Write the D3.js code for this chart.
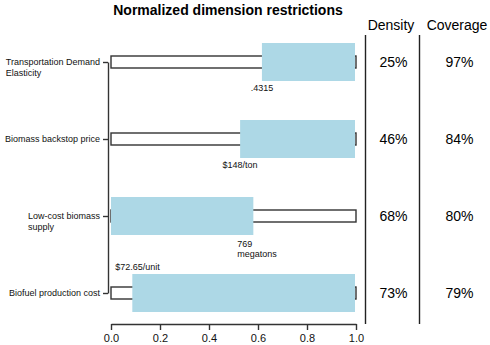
<!DOCTYPE html>
<html><head><meta charset="utf-8">
<script src="https://cdn.jsdelivr.net/npm/d3@7"></script>
<style>body{margin:0;background:#fff}svg{display:block;font-family:"Liberation Sans",Arial,sans-serif}</style>
</head><body><svg id="c" width="490" height="345"></svg>
<script>
const categories = ["Transportation Demand\nElasticity", "Biomass backstop price", "Low-cost biomass\nsupply", "Biofuel production cost"];
const lowerBounds = [0.616, 0.527, 0.0, 0.087];
const upperBounds = [1.0, 1.0, 0.581, 1.0];
const boundLabels = [".4315", "$148/ton", "769\nmegatons", "$72.65/unit"];
const density = ["25%", "46%", "68%", "73%"];
const coverage = ["97%", "84%", "80%", "79%"];
const xTicks = [0, 0.2, 0.4, 0.6, 0.8, 1.0];
const title = "Normalized dimension restrictions";

const svg = d3.select("#c");
const x = d3.scaleLinear().domain([0, 1]).range([111, 356]);
const y = d3.scalePoint().domain(d3.range(categories.length)).range([62, 293]);
const dark = "#333";

svg.append("text").attr("x", 228).attr("y", 15).attr("text-anchor", "middle")
  .attr("font-size", 14).attr("font-weight", "bold").text(title);

// white full-range bars
svg.selectAll("rect.full").data(categories).join("rect")
  .attr("x", x(0)).attr("width", x(1) - x(0))
  .attr("y", (d, i) => y(i) - 6).attr("height", 12)
  .attr("fill", "#fff").attr("stroke", dark).attr("stroke-width", 1.4);

// blue restricted ranges
svg.selectAll("rect.rng").data(categories).join("rect")
  .attr("x", (d, i) => x(lowerBounds[i]))
  .attr("width", (d, i) => x(upperBounds[i]) - x(lowerBounds[i]) - (upperBounds[i] === 1 ? 1 : 0))
  .attr("y", (d, i) => y(i) - 19).attr("height", 38)
  .attr("fill", "#ADD8E6");

// bound labels
const lab = svg.selectAll("text.bl").data(boundLabels).join("text")
  .attr("font-size", 9).attr("fill", "#111");
lab.each(function(d, i) {
  const t = d3.select(this);
  let px, py, anchor;
  if (i === 3) { px = x(lowerBounds[i]) - 17; py = y(i) - 23; anchor = "start"; }
  else if (lowerBounds[i] === 0) { px = x(upperBounds[i]) - 16; py = y(i) + 31; anchor = "start"; }
  else { px = x(lowerBounds[i]); py = y(i) + 29; anchor = "middle"; }
  t.attr("text-anchor", anchor);
  d.split("\n").forEach((s, k) => t.append("tspan").attr("x", px).attr("y", py + k * 9.5).text(s));
});

// x axis
const xa = svg.append("g").attr("transform", "translate(0,324)")
  .call(d3.axisBottom(x).tickValues(xTicks).tickFormat(d3.format(".1f")).tickSize(6).tickSizeOuter(0).tickPadding(4));
xa.selectAll("path,line").attr("stroke", dark).attr("stroke-width", 1.4);
xa.selectAll("text").attr("font-size", 11).attr("font-family", "Liberation Sans, Arial, sans-serif").attr("fill", "#111");

// y axis
const ya = svg.append("g").attr("transform", "translate(108,0)")
  .call(d3.axisLeft(y).tickSize(5).tickSizeOuter(0).tickFormat(""));
ya.selectAll("path,line").attr("stroke", dark).attr("stroke-width", 1.4);

// category labels (block right-aligned, lines left-aligned)
categories.forEach((c, i) => {
  const lines = c.split("\n");
  const g = svg.append("text").attr("font-size", 9).attr("fill", "#111");
  lines.forEach((s, k) => g.append("tspan").attr("y", y(i) + 3 + k * 10.5).text(s));
  const tsp = g.selectAll("tspan").nodes();
  const w = d3.max(tsp, n => n.getComputedTextLength());
  g.selectAll("tspan").attr("x", 100 - w);
});

// separators
[365.5, 419.5].forEach(sx => svg.append("line").attr("x1", sx).attr("x2", sx).attr("y1", 35).attr("y2", 324)
  .attr("stroke", "#222").attr("stroke-width", 1.4));

svg.append("text").attr("x", 391).attr("y", 30).attr("text-anchor", "middle").attr("font-size", 14).text("Density");
svg.append("text").attr("x", 457).attr("y", 30).attr("text-anchor", "middle").attr("font-size", 14).text("Coverage");
svg.selectAll("text.den").data(density).join("text").attr("x", 393.5).attr("y", (d, i) => y(i) + 5)
  .attr("text-anchor", "middle").attr("font-size", 14).text(d => d);
svg.selectAll("text.cov").data(coverage).join("text").attr("x", 459.5).attr("y", (d, i) => y(i) + 5)
  .attr("text-anchor", "middle").attr("font-size", 14).text(d => d);
</script></body></html>
